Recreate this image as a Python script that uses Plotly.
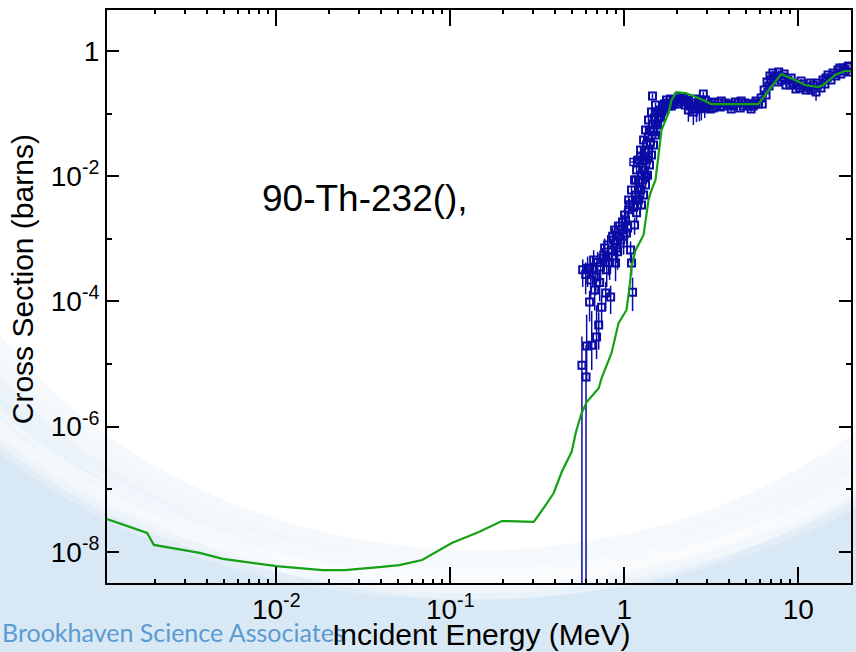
import plotly.graph_objects as go

# ---------------------------------------------------------------
# Evaluated cross section (MeV, barns)
# ---------------------------------------------------------------
eval_energy = [1.065e-3, 1.81e-3, 1.98e-3, 3.63e-3, 4.93e-3, 1.0e-2, 1.84e-2, 2.47e-2,
               3.9e-2, 5.09e-2, 6.89e-2, 8.97e-2, 0.102, 0.146, 0.198, 0.209, 0.275,
               0.302, 0.354, 0.393, 0.437, 0.499, 0.526, 0.563, 0.608, 0.713, 0.741,
               0.845, 0.927, 0.991, 1.03, 1.073, 1.10, 1.161, 1.291, 1.378, 1.415,
               1.512, 1.574, 1.637, 1.794, 1.87, 1.99, 2.25, 2.67, 3.16, 5.89, 6.46,
               7.97, 9.59, 10.9, 13.0, 13.9, 16.3, 18.5, 21.0]
eval_xs = [3.34e-8, 2.0e-8, 1.29e-8, 9.6e-9, 7.7e-9, 5.9e-9, 5.1e-9, 5.1e-9,
           5.7e-9, 6.15e-9, 7.4e-9, 1.11e-8, 1.38e-8, 2.07e-8, 3.1e-8, 3.1e-8, 3.0e-8,
           3.0e-8, 5.6e-8, 8.7e-8, 1.88e-7, 4.0e-7, 7.9e-7, 1.53e-6, 2.47e-6, 4.1e-6, 5.97e-6,
           1.5e-5, 4.5e-5, 6.1e-5, 7.3e-5, 1.7e-4, 3.55e-4, 6.6e-4, 1.15e-3, 4.17e-3, 5.4e-3,
           8.7e-3, 2.35e-2, 5.47e-2, 0.102, 0.165, 0.221, 0.213, 0.178, 0.142, 0.142, 0.198,
           0.429, 0.344, 0.286, 0.266, 0.286, 0.414, 0.479, 0.48]

# ---------------------------------------------------------------
# Measurements near threshold (asymmetric uncertainties)
# ---------------------------------------------------------------
thr_energy = [0.577, 0.571, 0.603, 0.600, 0.608, 0.616, 0.632, 0.641, 0.650, 0.659,
              0.667, 0.676, 0.686, 0.693, 0.703, 0.713, 0.722, 0.731, 0.741, 0.752,
              0.762, 0.771, 0.782, 0.793, 0.803, 0.813, 0.824, 0.835, 0.845, 0.857,
              0.869, 0.880, 0.891, 0.904, 0.916, 0.927, 0.940, 0.953, 0.966, 0.977,
              0.991, 1.004, 1.017, 1.030, 1.045, 1.059, 1.073, 1.087, 1.101, 1.116,
              1.130, 1.146, 1.161, 1.177, 1.208]
thr_xs = [3.2e-4, 9.6e-6, 6.2e-6, 2.7e-4, 1.94e-5, 3.4e-4, 9.8e-5, 2.2e-4, 2.0e-5, 3.4e-4,
          4.6e-4, 1.52e-4, 2.45e-4, 2.7e-5, 4.2e-4, 4.2e-5, 2.0e-4, 3.55e-4, 8.1e-5, 4.9e-4,
          5.5e-4, 7.1e-4, 1.36e-4, 3.2e-4, 8.0e-4, 5.1e-4, 4.2e-4, 1.18e-4, 6.6e-4, 1.1e-3,
          9.6e-4, 1.38e-3, 4.1e-4, 7.1e-4, 6.2e-4, 1.15e-3, 1.6e-3, 9.6e-4, 1.38e-3, 1.85e-3,
          8.6e-4, 2.4e-3, 2.0e-3, 1.24e-3, 1.49e-3, 2.9e-3, 3.5e-3, 6.6e-4, 4.1e-4, 1.4e-4,
          3.2e-3, 1.66e-3, 5.0e-3, 2.6e-3, 4.2e-3]
thr_err_up = [1.5e-4, 1.8e-5, 1.4e-5, 1.5e-4, 4.2e-5, 1.8e-4, 5e-5, 1.2e-4, 5e-5, 1.8e-4,
              2e-4, 9e-5, 1.3e-4, 6e-5, 2e-4, 2.5e-5, 1.1e-4, 1.8e-4, 4.5e-5, 2.2e-4,
              2.5e-4, 3e-4, 7e-5, 1.5e-4, 3.5e-4, 2.5e-4, 2e-4, 6e-5, 3e-4, 4e-4,
              4e-4, 5e-4, 2e-4, 3e-4, 3e-4, 4e-4, 5e-4, 4e-4, 5e-4, 6e-4,
              3e-4, 7e-4, 6e-4, 4e-4, 5e-4, 8e-4, 9e-4, 2.5e-4, 1.5e-4, 1.0e-4,
              9e-4, 5e-4, 1.2e-3, 8e-4, 1e-3]
thr_err_down = [1.5e-4, 9.6e-6, 6.2e-6, 1.4e-4, 1.4e-5, 1.7e-4, 5e-5, 1.1e-4, 1.2e-5, 1.7e-4,
                2e-4, 8e-5, 1.2e-4, 1.5e-5, 2e-4, 2.5e-5, 1e-4, 1.7e-4, 4e-5, 2.2e-4,
                2.5e-4, 3e-4, 6.5e-5, 1.5e-4, 3.5e-4, 2.5e-4, 2e-4, 5.5e-5, 3e-4, 4e-4,
                4e-4, 5e-4, 2e-4, 3e-4, 3e-4, 4e-4, 5e-4, 4e-4, 5e-4, 6e-4,
                3e-4, 7e-4, 6e-4, 4e-4, 5e-4, 8e-4, 9e-4, 2.5e-4, 1.5e-4, 7e-5,
                9e-4, 5e-4, 1.2e-3, 8e-4, 1e-3]

# ---------------------------------------------------------------
# Measurements above 1.2 MeV (symmetric uncertainties)
# ---------------------------------------------------------------
band_energy = [1.177, 1.192, 1.208, 1.224, 1.241, 1.256, 1.274, 1.274, 1.291, 1.308,
               1.325, 1.343, 1.343, 1.378, 1.378, 1.415, 1.415, 1.453, 1.472, 1.492,
               1.512, 1.531, 1.574, 1.594, 1.637, 1.656,
               1.453, 1.161, 1.241, 1.325, 1.378,
               1.059, 1.101, 1.146, 1.177, 1.208, 1.241, 1.291, 1.325, 1.378, 1.434, 1.512,
               1.256, 1.291, 1.325, 1.360, 1.396, 1.434, 1.472, 1.512, 1.553, 1.615, 1.703, 1.794,
               1.703, 1.748, 1.794, 1.842, 1.917, 1.968, 2.047, 2.130, 2.188, 2.245,
               2.336, 2.336, 2.430, 2.495, 2.562, 2.60, 2.665, 2.70, 2.773, 2.847,
               2.90, 2.924, 3.041, 3.163, 3.245, 3.335, 3.469, 3.611, 3.706, 3.960,
               4.120, 4.230, 4.519, 4.698, 4.828, 5.158, 5.357, 5.511, 5.728, 5.888,
               1.726, 1.866, 2.018, 2.100, 2.275, 2.399, 2.594, 2.735, 2.965, 3.119,
               3.289, 3.565, 3.802, 4.064, 4.345, 4.645, 4.955, 5.297, 5.662,
               6.120, 6.21, 6.362, 6.53, 6.613, 6.79, 6.874, 7.146, 7.428, 7.62,
               7.722, 8.13, 8.50, 8.73, 9.33, 9.70, 9.97, 10.65, 11.07, 11.38,
               12.16, 12.65, 12.98, 13.51, 13.87, 14.82, 15.42, 15.83, 16.91, 17.58,
               18.07, 19.3, 19.8,
               6.98, 7.26, 7.96, 8.29, 8.98, 9.10, 10.24, 10.38, 11.69, 11.84,
               14.23, 14.43, 16.44, 17.33, 18.53, 19.5]
band_xs = [4.17e-3, 3.47e-3, 6.0e-3, 8.08e-3, 6.0e-3, 1.04e-2, 1.35e-2, 8.7e-3, 1.82e-2, 1.26e-2,
           2.44e-2, 3.15e-2, 1.82e-2, 4.23e-2, 2.62e-2, 5.47e-2, 3.52e-2, 6.82e-2, 5.08e-2, 8.5e-2,
           6.82e-2, 0.102, 8.5e-2, 0.114, 0.106, 0.127,
           0.191, 8.7e-3, 2.1e-2, 9.7e-3, 2.03e-2,
           4.17e-3, 6.0e-3, 8.7e-3, 1.26e-2, 1.82e-2, 2.62e-2, 3.79e-2, 5.47e-2, 7.91e-2, 0.106, 0.137,
           3.47e-3, 5.0e-3, 7.23e-3, 1.04e-2, 1.51e-2, 2.18e-2, 3.15e-2, 4.55e-2, 6.58e-2, 8.82e-2, 0.114, 0.132,
           0.142, 0.165, 0.148, 0.171, 0.142, 0.165, 0.184, 0.153, 0.177, 0.137,
           0.165, 0.114, 0.148, 0.106, 0.171, 0.118, 0.142, 0.120, 0.123, 0.206,
           0.125, 0.165, 0.137, 0.148, 0.123, 0.132, 0.148, 0.159, 0.132, 0.142,
           0.118, 0.132, 0.148, 0.159, 0.132, 0.142, 0.118, 0.132, 0.159, 0.142,
           0.123, 0.132, 0.142, 0.171, 0.159, 0.132, 0.123, 0.165, 0.132, 0.118,
           0.153, 0.127, 0.148, 0.137, 0.153, 0.123, 0.148, 0.132, 0.148,
           0.177, 0.142, 0.238, 0.198, 0.320, 0.276, 0.399, 0.445, 0.399, 0.320,
           0.462, 0.384, 0.286, 0.344, 0.308, 0.247, 0.286, 0.297, 0.238, 0.266,
           0.286, 0.221, 0.308, 0.256, 0.344, 0.414, 0.344, 0.445, 0.497, 0.430,
           0.535, 0.555, 0.462,
           0.344, 0.371, 0.344, 0.430, 0.286, 0.371, 0.256, 0.332, 0.308, 0.238,
           0.297, 0.371, 0.399, 0.535, 0.479, 0.576]
band_err = [6e-4, 5e-4, 9e-4, 1.2e-3, 9e-4, 1.5e-3, 2e-3, 1.3e-3, 2.5e-3, 1.8e-3,
            3e-3, 4e-3, 2.5e-3, 5e-3, 3.5e-3, 6e-3, 4.5e-3, 7e-3, 6e-3, 9e-3,
            7e-3, 1e-2, 9e-3, 1.1e-2, 1.1e-2, 1.2e-2,
            1.5e-2, 1.3e-3, 3e-3, 1.5e-3, 3e-3,
            6e-4, 9e-4, 1.3e-3, 1.8e-3, 2.5e-3, 3.5e-3, 5e-3, 7e-3, 9e-3, 1.1e-2, 1.2e-2,
            5e-4, 7e-4, 1e-3, 1.5e-3, 2e-3, 3e-3, 4e-3, 6e-3, 8e-3, 1e-2, 1.2e-2, 1.2e-2,
            1.2e-2, 1.2e-2, 1.2e-2, 1.2e-2, 1.2e-2, 1.2e-2, 1.4e-2, 1.2e-2, 1.4e-2, 1.2e-2,
            1.2e-2, 4e-2, 1.2e-2, 4e-2, 1.2e-2, 4.5e-2, 1.2e-2, 4.5e-2, 4.5e-2, 1.5e-2,
            4e-2, 1.2e-2, 1e-2, 1e-2, 1e-2, 1e-2, 1e-2, 1e-2, 1e-2, 1e-2,
            1e-2, 1e-2, 1e-2, 1e-2, 1e-2, 1e-2, 1e-2, 1e-2, 1e-2, 1e-2,
            1e-2, 1e-2, 1e-2, 1e-2, 1e-2, 1e-2, 1e-2, 1e-2, 1e-2, 1e-2,
            1e-2, 1e-2, 1e-2, 1e-2, 1e-2, 1e-2, 1e-2, 1e-2, 1e-2,
            1.4e-2, 1.2e-2, 1.8e-2, 1.5e-2, 2.5e-2, 2e-2, 3e-2, 3e-2, 3e-2, 2.5e-2,
            3e-2, 2.5e-2, 2e-2, 2.5e-2, 2.2e-2, 2e-2, 2e-2, 2e-2, 1.8e-2, 2e-2,
            2e-2, 6e-2, 2.2e-2, 2e-2, 2.5e-2, 3e-2, 2.5e-2, 3e-2, 3.5e-2, 3e-2,
            3.5e-2, 4e-2, 3e-2,
            2.5e-2, 2.5e-2, 2.5e-2, 2.5e-2, 2.5e-2, 2.5e-2, 2.5e-2, 2.5e-2, 2.5e-2, 2.5e-2,
            2.5e-2, 2.5e-2, 2.5e-2, 2.5e-2, 2.5e-2, 2.5e-2]

# a single point measured with an energy spread
cross_energy = [1.130]
cross_xs = [1.69e-2]
cross_denergy = [0.04]
cross_dxs = [4e-3]

# axis labelling
x_tick_vals = [1e-2, 1e-1, 1, 10]
x_tick_text = ["10<sup>-2</sup>", "10<sup>-1</sup>", "1", "10"]
y_tick_vals = [1, 1e-2, 1e-4, 1e-6, 1e-8]
y_tick_text = ["1", "10<sup>-2</sup>", "10<sup>-4</sup>", "10<sup>-6</sup>", "10<sup>-8</sup>"]
y_minor_vals = [1e-1, 1e-3, 1e-5, 1e-7]
x_minor_vals = [m * 10.0 ** k for k in range(-3, 2) for m in range(2, 10)]

W, H = 856, 652
L, R, T, B = 107, 853, 10, 583
FONT = "Liberation Sans, Arial, Helvetica, sans-serif"
EXP_BLUE = "#0b0ba6"
EVAL_GREEN = "#15a015"


def px(x):
    return (x - L) / (R - L)


def py(y):
    return (B - y) / (B - T)


def ellipse(cx, cy, a, b, **kw):
    return dict(type="circle", xref="paper", yref="paper", layer="below",
                x0=px(cx - a), x1=px(cx + a), y0=py(cy + b), y1=py(cy - b), **kw)


fig = go.Figure()

fig.add_trace(go.Scatter(
    x=thr_energy + band_energy, y=thr_xs + band_xs, mode="markers",
    marker=dict(symbol="square-open", size=7, color=EXP_BLUE, line=dict(width=2)),
    error_y=dict(type="data", symmetric=False, array=thr_err_up + band_err,
                 arrayminus=thr_err_down + band_err, color=EXP_BLUE, thickness=1.5, width=0),
    showlegend=False, hoverinfo="skip"))

fig.add_trace(go.Scatter(
    x=cross_energy, y=cross_xs, mode="markers",
    marker=dict(symbol="square-open", size=7, color=EXP_BLUE, line=dict(width=1.5)),
    error_x=dict(type="data", array=cross_denergy, color=EXP_BLUE, thickness=1.3, width=0),
    error_y=dict(type="data", array=cross_dxs, color=EXP_BLUE, thickness=1.3, width=0),
    showlegend=False, hoverinfo="skip"))

fig.add_trace(go.Scatter(
    x=eval_energy, y=eval_xs, mode="lines",
    line=dict(color=EVAL_GREEN, width=2.2),
    showlegend=False, hoverinfo="skip"))

# slide backdrop: pale blue with a soft white dome and a white swoosh
shapes = []
for s in [1.10, 1.075, 1.05, 1.025]:
    shapes.append(ellipse(480, 60, 580 * s, 490 * s, fillcolor="white",
                          line=dict(width=0), opacity=0.3))
shapes.append(ellipse(480, 60, 580, 490, fillcolor="white", line=dict(width=0), opacity=1))
for w, op in [(40, 0.25), (26, 0.35), (12, 0.45)]:
    shapes.append(ellipse(470, 180, 600, 400, fillcolor="rgba(0,0,0,0)",
                          line=dict(color="white", width=w), opacity=op))

axis_common = dict(
    type="log", showgrid=False, zeroline=False, showline=True, linecolor="black",
    linewidth=2, mirror="ticks", ticks="inside", tickcolor="black", tickwidth=2,
    tickfont=dict(family=FONT, size=28, color="black"), tickmode="array",
)

fig.update_layout(
    width=W, height=H,
    margin=dict(l=L, r=W - R, t=T, b=H - B, pad=0),
    paper_bgcolor="#d9e8f5", plot_bgcolor="rgba(0,0,0,0)",
    shapes=shapes,
    xaxis=dict(range=[-2.9727, 1.303], tickvals=x_tick_vals, ticktext=x_tick_text,
               ticklen=16,
               minor=dict(tickmode="array", tickvals=x_minor_vals, ticks="inside",
                          ticklen=4, tickwidth=1.5, tickcolor="black"),
               **axis_common),
    yaxis=dict(range=[-8.498, 0.655], tickvals=y_tick_vals, ticktext=y_tick_text,
               ticklen=12,
               minor=dict(tickmode="array", tickvals=y_minor_vals, ticks="inside",
                          ticklen=5, tickwidth=2, tickcolor="black"),
               **axis_common),
    annotations=[
        dict(text="90-Th-232(),", x=px(260), y=py(198), xref="paper", yref="paper",
             xanchor="left", yanchor="middle", showarrow=False,
             font=dict(family=FONT, size=37, color="black")),
        dict(text="Brookhaven Science Associates", x=px(0), y=py(632), xref="paper",
             yref="paper", xanchor="left", yanchor="middle", showarrow=False,
             font=dict(family="Lato, Open Sans, sans-serif", size=25, color="#5b9bd2")),
        dict(text="Incident Energy (MeV)", x=px(482), y=py(634), xref="paper",
             yref="paper", xanchor="center", yanchor="middle", showarrow=False,
             font=dict(family=FONT, size=30, color="black")),
        dict(text="Cross Section (barns)", x=px(22), y=py(279), xref="paper",
             yref="paper", xanchor="center", yanchor="middle", showarrow=False,
             textangle=-90, font=dict(family=FONT, size=30, color="black")),
    ],
)

fig.write_html("out.html")
